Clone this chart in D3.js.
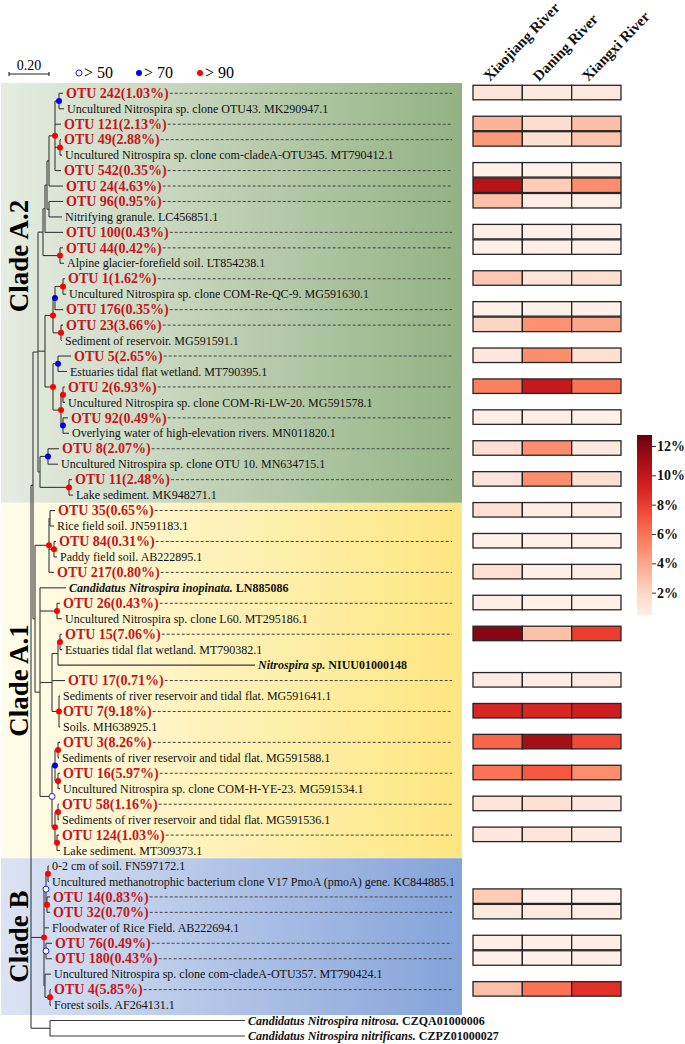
<!DOCTYPE html>
<html><head><meta charset="utf-8">
<script src="https://cdn.jsdelivr.net/npm/d3@7"></script>
<style>body{margin:0;background:#fff}svg{display:block}</style>
</head><body>
<svg id="chart" width="685" height="1044"></svg>
<script>
// ---------------- DATA ----------------
// Phylogeny (Newick, branch lengths in substitutions/site; internal labels = bootstrap class r:>90 b:>70 o:>50)
const newick =
"(((((((((((O242:0.020,MK290947.1:0.025)b:0.020,O121:0.030,(O49:0.005,MT790412.1:0.010)r:0.025,O542:0.030)r:0.030,O24:0.070):0.010,(O96:0.070,LC456851.1:0.065):0.010):0.010,O100:0.090):0.010,(O44:0.015,LT854238.1:0.020)r:0.085):0.025," +
"((((O1:0.010,MG591630.1:0.015)r:0.040,O176:0.040)b:0.010,(O23:0.010,MG591591.1:0.005)r:0.040)r:0.040,((O5:0.065,MT790395.1:0.045)b:0.025,((O2:0.010,MG591578.1:0.010)r:0.010,(O92:0.025,MN011820.1:0.030)b:0.010)r:0.040)r:0.040):0.035," +
"((O8:0.055,MN634715.1:0.050)b:0.040,(O11:0.015,MK948271.1:0.020)r:0.145):0.010):0.025," +
"(((O35:0.025,JN591183.1:0.020):0.005,(O84:0.010,AB222895.1:0.015)r:0.025,O217:0.025)r:0.070," +
"(LN885086:0.130,(O26:0.015,MT295186.1:0.025)r:0.085,(((O15:0.010,MT790382.1:0.010)r:0.010,NIUU01000148:0.985):0.030,O17:0.065,(MG591641.1:0.005,O7:0.005,MH638925.1:0.005)r:0.035):0.060," +
"(((O3:0.010,MG591588.1:0.005)r:0.015,(O16:0.010,MG591534.1:0.010)r:0.015)b:0.015,((O58:0.005,MG591536.1:0.005)r:0.015,(O124:0.010,MT309373.1:0.015)r:0.010)r:0.015)o:0.060):0.025):0.010):0.010," +
"(((FN597172.1:0.005,KC844885.1:0.005)r:0.010,(O14:0.015,O32:0.015)r:0.005)o:0.010,AB222694.1:0.025,(O76:0.030,O180:0.030)o:0.010,(MT790424.1:0.030,(O4:0.005,AF264131.1:0.005)r:0.025):0.005)r:0.065," +
"(CZQA01000006:0.975,CZPZ01000027:0.975):0.095);";

const otuIds    = [242,121,49,542,24,96,100,44,1,176,23,5,2,92,8,11,35,84,217,26,15,17,7,3,16,58,124,14,32,76,180,4];
const otuShares = [1.03,2.13,2.88,0.35,4.63,0.95,0.43,0.42,1.62,0.35,3.66,2.65,6.93,0.49,2.07,2.48,0.65,0.31,0.80,0.43,7.06,0.71,9.18,8.26,5.97,1.16,1.03,0.83,0.70,0.49,0.43,5.85];

const rivers    = ["Xiaojiang River","Daning River","Xiangxi River"];
const xiaojiang = [1.2,3.5,4.5,0.4,10.5,3.0,0.5,0.4,2.6,0.3,2.0,1.0,5.5,0.5,1.5,1.2,1.5,0.4,1.5,0.5,12.0,0.8,9.0,6.5,6.0,1.2,1.0,2.5,0.8,0.5,0.4,3.0];
const daning    = [0.9,1.6,1.5,0.3,2.5,0.6,0.4,0.5,1.2,0.4,4.8,5.0,9.8,0.6,5.0,5.0,0.6,0.3,0.5,0.4,3.0,0.7,9.0,11.0,7.0,1.5,1.2,0.3,0.9,0.5,0.4,6.0];
const xiangxi   = [1.0,3.0,2.8,0.4,5.0,0.5,0.4,0.4,1.5,0.3,4.0,1.5,6.0,0.4,1.0,1.5,0.6,0.3,0.6,0.4,8.0,0.8,9.5,7.5,5.0,1.0,0.9,0.3,0.6,0.5,0.5,8.5];

const refAccessions = ["MK290947.1","MT790412.1","LC456851.1","LT854238.1","MG591630.1","MG591591.1","MT790395.1","MG591578.1","MN011820.1","MN634715.1","MK948271.1","JN591183.1","AB222895.1","MT295186.1","MT790382.1","MG591641.1","MH638925.1","MG591588.1","MG591534.1","MG591536.1","MT309373.1","FN597172.1","KC844885.1","AB222694.1","MT790424.1","AF264131.1"];
const refSources = ["Uncultured Nitrospira sp. clone OTU43.","Uncultured Nitrospira sp. clone com-cladeA-OTU345.","Nitrifying granule.","Alpine glacier-forefield soil.","Uncultured Nitrospira sp. clone COM-Re-QC-9.","Sediment of reservoir.","Estuaries tidal flat wetland.","Uncultured Nitrospira sp. clone COM-Ri-LW-20.","Overlying water of high-elevation rivers.","Uncultured Nitrospira sp. clone OTU 10.","Lake sediment.","Rice field soil.","Paddy field soil.","Uncultured Nitrospira sp. clone L60.","Estuaries tidal flat wetland.","Sediments of river reservoir and tidal flat.","Soils.","Sediments of river reservoir and tidal flat.","Uncultured Nitrospira sp. clone COM-H-YE-23.","Sediments of river reservoir and tidal flat.","Lake sediment.","0-2 cm of soil.","Uncultured methanotrophic bacterium clone V17 PmoA (pmoA) gene.","Floodwater of Rice Field.","Uncultured Nitrospira sp. clone com-cladeA-OTU357.","Forest soils."];

const speciesAccessions = ["LN885086","NIUU01000148","CZQA01000006","CZPZ01000027"];
const speciesNames = ["Candidatus Nitrospira inopinata.","Nitrospira sp.","Candidatus Nitrospira nitrosa.","Candidatus Nitrospira nitrificans."];

const cladeNames = ["Clade A.2","Clade A.1","Clade B"];
const cladeFirst = ["O242","O35","FN597172.1"];
const cladeLast  = ["MK948271.1","MT309373.1","AF264131.1"];

const supportClasses = ["r","b","o"];
const supportLabels  = ["> 50","> 70","> 90"];
const colorTicks = [2,4,6,8,10,12];
const scaleBarValue = 0.20;

// ---------------- HELPERS ----------------
function parseNewick(s){
  let i=0;
  function node(){
    const n={};
    if(s[i]==='('){
      n.children=[]; i++;
      while(true){ n.children.push(node()); if(s[i]===','){i++;continue;} break; }
      i++;
    }
    let name=''; while(i<s.length && !',():;'.includes(s[i])) name+=s[i++];
    n.name=name;
    if(s[i]===':'){ i++; let l=''; while(i<s.length && !',();'.includes(s[i])) l+=s[i++]; n.length=+l; }
    else n.length=0;
    return n;
  }
  return node();
}

const svg = d3.select("#chart");
const defs = svg.append("defs");
const serif = "'Liberation Serif','Times New Roman',serif";

const root = d3.hierarchy(parseNewick(newick));
root.each(d=>{ d.dist = d.parent ? d.parent.dist + d.data.length : 0; });
const leaves = root.leaves();

const xTree = d3.scaleLinear().domain([0,1]).range([31,231]);
const yTip  = d3.scaleLinear().domain([0,leaves.length-1]).range([93.3,1036]);
leaves.forEach((d,i)=>{ d.idx=i; d.py=yTip(i); });
root.eachAfter(d=>{ if(d.children){ d.py=(d.children[0].py+d.children[d.children.length-1].py)/2; } });
root.each(d=>{ d.px = xTree(d.dist); });
const leafByName = new Map(leaves.map(d=>[d.data.name,d]));

// ---------------- CLADE BANDS ----------------
const bandColors = [["#e6ece1","#93b283"],["#fffcec","#fde680"],["#dce3f3","#84a3d9"]];
const labelShift = [-37,0,0];
cladeNames.forEach((c,k)=>{
  const gr = defs.append("linearGradient").attr("id","band"+k).attr("x1","0").attr("x2","1").attr("y1","0").attr("y2","0");
  gr.append("stop").attr("offset","0").attr("stop-color",bandColors[k][0]);
  gr.append("stop").attr("offset","1").attr("stop-color",bandColors[k][1]);
  const a = leafByName.get(cladeFirst[k]), b = leafByName.get(cladeLast[k]);
  const step = yTip(1)-yTip(0);
  const top = k===0 ? a.py-10.3 : a.py-step/2;
  const bot = k===cladeNames.length-1 ? b.py+10 : b.py+step/2;
  svg.append("rect").attr("x",1).attr("y",top).attr("width",461).attr("height",bot-top).attr("fill",`url(#band${k})`);
  svg.append("text").attr("transform",`translate(28,${(top+bot)/2+labelShift[k]}) rotate(-90)`)
    .attr("text-anchor","middle").attr("font-family",serif).attr("font-weight","bold").attr("font-size",27)
    .text(c);
});

// ---------------- TREE ----------------
const gt = svg.append("g").attr("stroke","#3a3a3a").attr("stroke-width",1.1).attr("fill","none");
root.descendants().forEach(d=>{
  if(d.parent) gt.append("line").attr("x1",d.parent.px).attr("x2",d.px).attr("y1",d.py).attr("y2",d.py);
  if(d.children) gt.append("line").attr("x1",d.px).attr("x2",d.px)
      .attr("y1",d.children[0].py).attr("y2",d.children[d.children.length-1].py);
});
const supColor = {r:"#ff0000", b:"#0000ee", o:"#2020e0"};
root.descendants().filter(d=>d.children && supportClasses.includes(d.data.name)).forEach(d=>{
  const o = d.data.name==="o";
  svg.append("circle").attr("cx",d.px).attr("cy",d.py).attr("r",3)
    .attr("fill",o?"#fff":supColor[d.data.name]).attr("stroke",supColor[d.data.name]).attr("stroke-width",o?1:0);
});

// ---------------- TIP LABELS ----------------
const dashEnd = 452;
leaves.forEach(d=>{
  const name = d.data.name, lx = d.px+3;
  if(name[0]==="O" && otuIds.includes(+name.slice(1))){
    const k = otuIds.indexOf(+name.slice(1));
    const t = svg.append("text").attr("x",lx).attr("y",d.py+4.7).attr("font-family",serif)
      .attr("font-weight","bold").attr("font-size",14).attr("fill","#c4161c")
      .text(`OTU ${otuIds[k]}(${otuShares[k].toFixed(2)}%)`);
    const w = t.node().getComputedTextLength();
    svg.append("line").attr("x1",lx+w+1).attr("x2",dashEnd).attr("y1",d.py).attr("y2",d.py)
      .attr("stroke","#444").attr("stroke-width",1).attr("stroke-dasharray","3,2");
  } else if(refAccessions.includes(name)){
    const k = refAccessions.indexOf(name);
    svg.append("text").attr("x",lx).attr("y",d.py+4.2).attr("font-family",serif)
      .attr("font-size",12).attr("fill","#111").text(`${refSources[k]} ${name}`);
  } else {
    const k = speciesAccessions.indexOf(name);
    const t = svg.append("text").attr("x",lx).attr("y",d.py+4.2).attr("font-family",serif)
      .attr("font-size",12).attr("font-weight","bold").attr("fill","#111");
    t.append("tspan").attr("font-style","italic").text(speciesNames[k]);
    t.append("tspan").text(" "+name);
  }
});

// ---------------- HEATMAP ----------------
const values = [xiaojiang,daning,xiangxi];
const vmax = 12.75;
const color = d3.scaleSequential(d3.interpolateReds).domain([0,vmax]);
const xCol = d3.scaleBand().domain(rivers).range([473,621]);
otuIds.forEach((id,k)=>{
  const leaf = leafByName.get("O"+id);
  rivers.forEach((r,j)=>{
    svg.append("rect").attr("x",xCol(r)).attr("y",leaf.py-8).attr("width",xCol.bandwidth()).attr("height",14.5)
      .attr("fill",color(values[j][k])).attr("stroke","#262626").attr("stroke-width",1.3);
  });
});
rivers.forEach(r=>{
  svg.append("text").attr("transform",`translate(${xCol(r)+xCol.bandwidth()/2-8},82) rotate(-46)`)
    .attr("font-family",serif).attr("font-weight","bold").attr("font-size",15).attr("fill","#111").text(r);
});

// ---------------- COLOR BAR ----------------
const yBar = d3.scaleLinear().domain([0,12]).range([622,446]);
const cg = defs.append("linearGradient").attr("id","cbar").attr("x1","0").attr("x2","0").attr("y1","1").attr("y2","0");
d3.range(0,1.0001,0.1).forEach(t=>{
  const v = 0.45 + t*(vmax-0.45);
  cg.append("stop").attr("offset",t).attr("stop-color",color(v));
});
svg.append("rect").attr("x",637).attr("y",yBar(vmax)).attr("width",15).attr("height",yBar(0.45)-yBar(vmax)).attr("fill","url(#cbar)");
const axis = d3.axisRight(yBar).tickValues(colorTicks).tickFormat(d=>d+"%").tickSize(4).tickPadding(1);
const ax = svg.append("g").attr("transform","translate(652,0)").call(axis);
ax.select(".domain").remove();
ax.selectAll("line").attr("stroke","#333");
ax.selectAll("text").attr("font-family",serif).attr("font-weight","bold").attr("font-size",14).attr("fill","#111");

// ---------------- SCALE BAR & LEGEND ----------------
const sbX0 = 9, sbX1 = sbX0 + (xTree(scaleBarValue)-xTree(0));
svg.append("path").attr("d",`M${sbX0},72V76M${sbX0},74H${sbX1}M${sbX1},72V76`).attr("stroke","#222").attr("fill","none").attr("stroke-width",1.1);
svg.append("text").attr("x",(sbX0+sbX1)/2).attr("y",70).attr("text-anchor","middle").attr("font-family",serif).attr("font-size",14).text(scaleBarValue.toFixed(2));
const legX = [79,139,200];
["o","b","r"].forEach((c,i)=>{
  const o = c==="o";
  svg.append("circle").attr("cx",legX[i]).attr("cy",73).attr("r",3)
    .attr("fill",o?"#fff":supColor[c]).attr("stroke",supColor[c]).attr("stroke-width",o?1:0);
  svg.append("text").attr("x",legX[i]+5).attr("y",78).attr("font-family",serif).attr("font-size",16).text(supportLabels[i]);
});
</script>
</body></html>
